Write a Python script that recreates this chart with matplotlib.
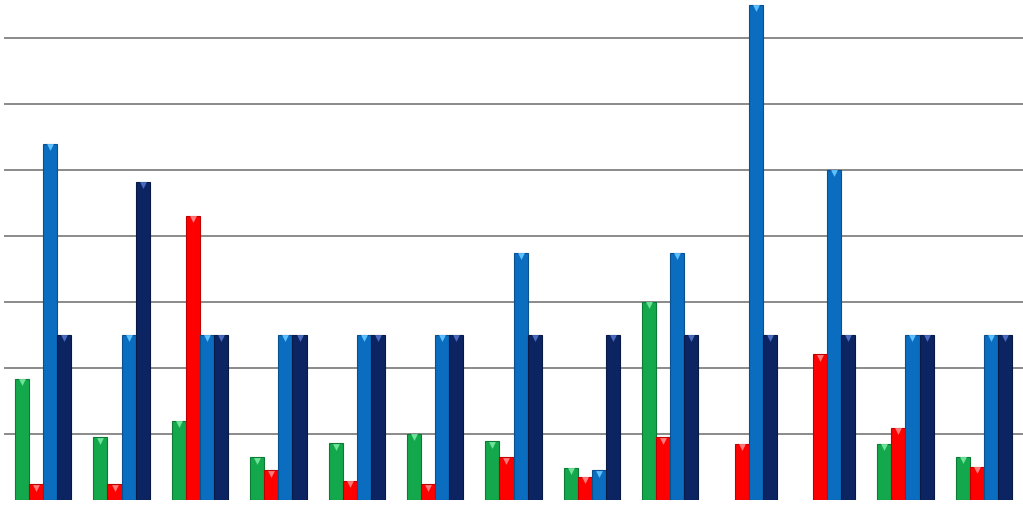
import numpy as np
import matplotlib
matplotlib.use("Agg")
import matplotlib.pyplot as plt

# values (one gridline = 1 unit)
groups = np.arange(13)
verde = [1.83, 0.94, 1.19, 0.64, 0.85, 0.99, 0.88, 0.48, 3.0, 0, 0, 0.84, 0.65]
rojo = [0.23, 0.23, 4.30, 0.44, 0.28, 0.23, 0.64, 0.34, 0.94, 0.84, 2.2, 1.09, 0.49]
azul = [5.39, 2.5, 2.5, 2.5, 2.5, 2.5, 3.74, 0.44, 3.74, 7.49, 4.99, 2.5, 2.5]
marino = [2.5, 4.81, 2.5, 2.5, 2.5, 2.5, 2.5, 2.5, 2.5, 2.5, 2.5, 2.5, 2.5]

series = [verde, rojo, azul, marino]
colores = ["#13a84b", "#ff0000", "#0b6dc0", "#0c2562"]
bordes = ["#0b7a34", "#c00000", "#08508f", "#061a45"]
puntas = ["#6fe39a", "#ff7a7a", "#5ec0ff", "#4a6ac0"]

fig = plt.figure(figsize=(10.23, 5.15), dpi=100)
ax = fig.add_axes([4/1023, 15.5/515, 1019/1023, 499.5/515])

w = 0.18
for k, (vals, c, b, p) in enumerate(zip(series, colores, bordes, puntas)):
    xs = groups + (k - 1.5) * w
    vals = np.array(vals)
    m = vals > 0
    ax.bar(xs[m], vals[m], width=w, color=c, edgecolor=b, linewidth=0.8, zorder=3)
    ax.scatter(xs[m], vals[m] - 0.05, marker="v", s=24, color=p,
               linewidths=0, zorder=4)

for y in range(1, 8):
    ax.axhline(y, color="#8a8a8a", linewidth=1.4, zorder=1)

ax.set_xlim(-0.5, 12.5)
ax.set_ylim(0, 499.5/66)
ax.axis("off")

plt.savefig("out.png", dpi=100)
